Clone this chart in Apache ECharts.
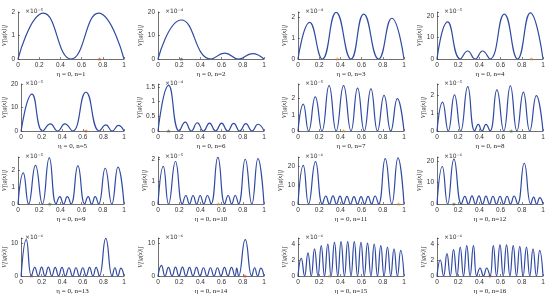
<!DOCTYPE html>
<html><head><meta charset="utf-8">
<script src="https://cdn.jsdelivr.net/npm/echarts@6/dist/echarts.min.js"></script>
<style>html,body{margin:0;padding:0;background:#fff}#c{width:550px;height:296px}</style>
</head><body><div id="c"></div>
<script>
// ---- data (values in units of the panel's ×10^k exponent) ----
const xTicks = [0, 0.2, 0.4, 0.6, 0.8, 1];
const p1X = [0, 0.24, 0.5, 0.76, 1];
const p1Y = [0, 1.95, 0, 1.95, 0];
const p2X = [0, 0.22, 0.5, 0.63, 0.76, 0.89, 1];
const p2Y = [0, 16.6, 0, 2.5, 0, 2.3, 0];
const p3X = [0, 0.11, 0.23, 0.36, 0.5, 0.62, 0.76, 0.885, 1];
const p3Y = [0, 1.75, 0, 2.23, 0, 2.15, 0, 1.95, 0];
const p4X = [0, 0.1, 0.22, 0.29, 0.36, 0.43, 0.5, 0.635, 0.76, 0.88, 1];
const p4Y = [0, 17.2, 0, 3.7, 0, 3.7, 0, 20.8, 0, 21.4, 0];
const p5X = [0, 0.105, 0.21, 0.285, 0.355, 0.425, 0.5, 0.63, 0.76, 0.825, 0.885, 0.945, 1];
const p5Y = [0, 15.7, 0, 3.0, 0, 3.0, 0, 16.5, 0, 2.6, 0, 2.4, 0];
const p6X = [0, 0.1, 0.2, 0.257, 0.314, 0.371, 0.429, 0.486, 0.543, 0.6, 0.657, 0.714, 0.771, 0.829, 0.886, 0.943, 1];
const p6Y = [0, 1.55, 0, 0.3, 0, 0.28, 0, 0.27, 0, 0.27, 0, 0.26, 0, 0.25, 0, 0.23, 0];
const p7X = [0, 0.05, 0.1, 0.163, 0.226, 0.293, 0.36, 0.43, 0.5, 0.562, 0.625, 0.688, 0.75, 0.812, 0.875, 0.937, 1];
const p7Y = [0, 1.66, 0, 2.1, 0, 2.8, 0, 2.8, 0, 2.65, 0, 2.6, 0, 2.2, 0, 2.0, 0];
const p8X = [0, 0.053, 0.106, 0.165, 0.224, 0.29, 0.355, 0.39, 0.424, 0.462, 0.5, 0.565, 0.63, 0.692, 0.754, 0.815, 0.875, 0.937, 1];
const p8Y = [0, 1.6, 0, 2.0, 0, 2.45, 0, 0.37, 0, 0.37, 0, 2.27, 0, 2.5, 0, 2.15, 0, 1.96, 0];
const p9X = [0, 0.05, 0.1, 0.165, 0.23, 0.295, 0.36, 0.395, 0.43, 0.465, 0.5, 0.565, 0.63, 0.662, 0.695, 0.728, 0.76, 0.823, 0.885, 0.943, 1];
const p9Y = [0, 1.85, 0, 2.3, 0, 2.75, 0, 0.44, 0, 0.44, 0, 2.27, 0, 0.44, 0, 0.44, 0, 2.13, 0, 2.2, 0];
const p10X = [0, 0.05, 0.1, 0.165, 0.23, 0.263, 0.297, 0.331, 0.365, 0.398, 0.432, 0.466, 0.5, 0.565, 0.63, 0.662, 0.695, 0.728, 0.76, 0.823, 0.885, 0.943, 1];
const p10Y = [0, 1.68, 0, 1.9, 0, 0.38, 0, 0.38, 0, 0.38, 0, 0.38, 0, 2.08, 0, 0.38, 0, 0.38, 0, 2.0, 0, 2.03, 0];
const p11X = [0, 0.05, 0.1, 0.165, 0.23, 0.263, 0.296, 0.33, 0.363, 0.396, 0.429, 0.462, 0.495, 0.528, 0.561, 0.595, 0.628, 0.661, 0.694, 0.727, 0.76, 0.823, 0.885, 0.943, 1];
const p11Y = [0, 20.3, 0, 22.3, 0, 4.2, 0, 4.3, 0, 4.1, 0, 4.0, 0, 3.9, 0, 3.9, 0, 4.0, 0, 4.2, 0, 23.8, 0, 24.2, 0];
const p12X = [0, 0.05, 0.1, 0.16, 0.23, 0.263, 0.296, 0.33, 0.363, 0.396, 0.429, 0.462, 0.495, 0.528, 0.561, 0.595, 0.628, 0.661, 0.694, 0.727, 0.76, 0.823, 0.885, 0.912, 0.94, 0.97, 1];
const p12Y = [0, 17.4, 0, 20.8, 0, 3.5, 0, 3.8, 0, 3.8, 0, 3.7, 0, 3.6, 0, 3.6, 0, 3.6, 0, 3.7, 0, 18.9, 0, 3.2, 0, 3.0, 0];
const p13X = [0, 0.05, 0.1, 0.133, 0.166, 0.199, 0.232, 0.265, 0.298, 0.331, 0.364, 0.397, 0.43, 0.465, 0.5, 0.533, 0.566, 0.599, 0.632, 0.665, 0.698, 0.729, 0.76, 0.823, 0.885, 0.912, 0.94, 0.97, 1];
const p13Y = [0, 11.0, 0, 2.6, 0, 2.7, 0, 2.7, 0, 2.6, 0, 2.6, 0, 2.5, 0, 2.5, 0, 2.5, 0, 2.6, 0, 2.6, 0, 11.4, 0, 2.5, 0, 2.4, 0];
const p14X = [0, 0.033, 0.066, 0.099, 0.132, 0.165, 0.198, 0.231, 0.264, 0.297, 0.33, 0.363, 0.396, 0.429, 0.462, 0.495, 0.528, 0.561, 0.594, 0.627, 0.66, 0.693, 0.726, 0.743, 0.76, 0.823, 0.885, 0.912, 0.94, 0.97, 1];
const p14Y = [0, 3.2, 0, 2.6, 0, 2.7, 0, 2.7, 0, 2.6, 0, 2.6, 0, 2.5, 0, 2.5, 0, 2.5, 0, 2.6, 0, 2.6, 0, 2.4, 0, 11.0, 0, 2.5, 0, 2.4, 0];
const p15X = [0, 0.031, 0.062, 0.094, 0.125, 0.156, 0.188, 0.219, 0.25, 0.281, 0.312, 0.344, 0.375, 0.406, 0.438, 0.469, 0.5, 0.531, 0.562, 0.594, 0.625, 0.656, 0.688, 0.719, 0.75, 0.781, 0.812, 0.844, 0.875, 0.906, 0.938, 0.969, 1];
const p15Y = [0, 2.2, 0, 2.9, 0, 3.4, 0, 3.8, 0, 4.0, 0, 4.2, 0, 4.3, 0, 4.3, 0, 4.3, 0, 4.2, 0, 4.1, 0, 4.0, 0, 3.8, 0, 3.6, 0, 3.4, 0, 3.2, 0];
const p16X = [0, 0.031, 0.062, 0.094, 0.125, 0.156, 0.188, 0.219, 0.25, 0.281, 0.312, 0.344, 0.375, 0.406, 0.438, 0.469, 0.5, 0.531, 0.562, 0.594, 0.625, 0.656, 0.688, 0.719, 0.75, 0.781, 0.812, 0.844, 0.875, 0.906, 0.938, 0.969, 1];
const p16Y = [0, 2.0, 0, 2.8, 0, 3.3, 0, 3.6, 0, 3.8, 0, 3.8, 0, 1.0, 0, 1.0, 0, 3.8, 0, 3.9, 0, 3.9, 0, 3.8, 0, 3.7, 0, 3.6, 0, 3.4, 0, 3.2, 0];
const starX = [0.77, 0.22, 0.37, 0.89, 0.63, 0.1, 0.43, 0.7, 0.3, 0.57, 0.95, 0.16, 0.1, 0.82, 0.3, 0.5];
const nValues = [1, 2, 3, 4, 5, 6, 7, 8, 9, 10, 11, 12, 13, 14, 15, 16];
const yMax = [2, 20, 2.25, 21.8, 20, 1.6, 2.9, 2.6, 2.8, 2.1, 24.7, 21.8, 11.5, 11.5, 4.75, 4.75];
const yStep = [1, 10, 1, 10, 10, 0.5, 1, 1, 1, 1, 10, 10, 10, 10, 2, 2];
const yExp = ['-5', '-4', '-4', '-5', '-5', '-4', '-5', '-5', '-5', '-5', '-6', '-6', '-6', '-6', '-6', '-6'];

const xs = [p1X,p2X,p3X,p4X,p5X,p6X,p7X,p8X,p9X,p10X,p11X,p12X,p13X,p14X,p15X,p16X];
const ys = [p1Y,p2Y,p3Y,p4Y,p5Y,p6Y,p7Y,p8Y,p9Y,p10Y,p11Y,p12Y,p13Y,p14Y,p15Y,p16Y];

// ---- layout / style ----
const colLeft = [18, 158, 298, 437];
const rowTop = [12, 84, 157, 238];
const rowH = [47, 47, 47, 38];
const W = 106;
const sup = {'-':'⁻','0':'⁰','1':'¹','2':'²','3':'³','4':'⁴','5':'⁵','6':'⁶','7':'⁷','8':'⁸','9':'⁹'};
const starColors = ['#d6452a','#3a6b2a','#d98a2a','#d98a2a','#d6452a','#3a6b2a','#d98a2a','#3a6b2a','#3a6b2a','#d98a2a','#d98a2a','#3a6b2a','#d6452a','#d6452a','#d98a2a','#d6452a'];
const starPath = 'path://M50,0 L61,35 L98,35 L68,57 L79,91 L50,70 L21,91 L32,57 L2,35 L39,35 Z';

const grid = [], xAxis = [], yAxis = [], series = [], title = [];
for (let i = 0; i < 16; i++) {
  const r = Math.floor(i / 4), c = i % 4;
  grid.push({left: colLeft[c], top: rowTop[r], width: W, height: rowH[r], containLabel: false});
  xAxis.push({
    type: 'value', gridIndex: i, min: 0, max: 1, interval: 0.2,
    name: 'η = 0, n=' + nValues[i], nameLocation: 'middle', nameGap: 12,
    nameTextStyle: {fontFamily: 'Liberation Serif', fontSize: 7, color: '#222'},
    axisLine: {lineStyle: {color: '#333', width: 0.7}},
    axisTick: {inside: true, length: 2, lineStyle: {color: '#333', width: 0.6}},
    axisLabel: {fontSize: 6.5, color: '#333', margin: 3, fontFamily: 'Liberation Sans',
      formatter: v => xTicks.some(t => Math.abs(t - v) < 1e-9) ? String(+v.toFixed(1)) : ''},
    splitLine: {show: false}
  });
  const st = yStep[i];
  yAxis.push({
    type: 'value', gridIndex: i, min: 0, max: yMax[i], interval: st,
    name: 'V[|g(x)|]', nameLocation: 'middle', nameGap: 9,
    nameTextStyle: {fontFamily: 'Liberation Serif', fontStyle: 'italic', fontSize: 6, color: '#222'},
    axisLine: {show: true, lineStyle: {color: '#333', width: 0.7}},
    axisTick: {show: true, inside: true, length: 2, lineStyle: {color: '#333', width: 0.6}},
    axisLabel: {fontSize: 6.5, color: '#333', margin: 3, fontFamily: 'Liberation Sans',
      formatter: v => Math.abs(v / st - Math.round(v / st)) < 1e-6 ? String(+v.toFixed(2)) : ''},
    splitLine: {show: false}
  });
  series.push({
    type: 'line', xAxisIndex: i, yAxisIndex: i, smooth: 0.5, showSymbol: false, silent: true,
    data: xs[i].map((x, k) => [x, ys[i][k]]),
    lineStyle: {color: '#2f4aa3', width: 1.2}
  });
  series.push({
    type: 'scatter', xAxisIndex: i, yAxisIndex: i, symbol: starPath, symbolSize: 4, silent: true,
    data: [[starX[i], 0]], itemStyle: {color: starColors[i]}
  });
  title.push({
    text: '×10' + yExp[i].split('').map(ch => sup[ch]).join(''),
    left: colLeft[c] + 2, top: rowTop[r] - 9,
    textStyle: {fontSize: 6, fontWeight: 'normal', color: '#333', fontFamily: 'DejaVu Sans'}
  });
}

const chart = echarts.init(document.getElementById('c'), null, {renderer: 'canvas'});
chart.setOption({animation: false, backgroundColor: '#fff', title, grid, xAxis, yAxis, series});
</script>
</body></html>
